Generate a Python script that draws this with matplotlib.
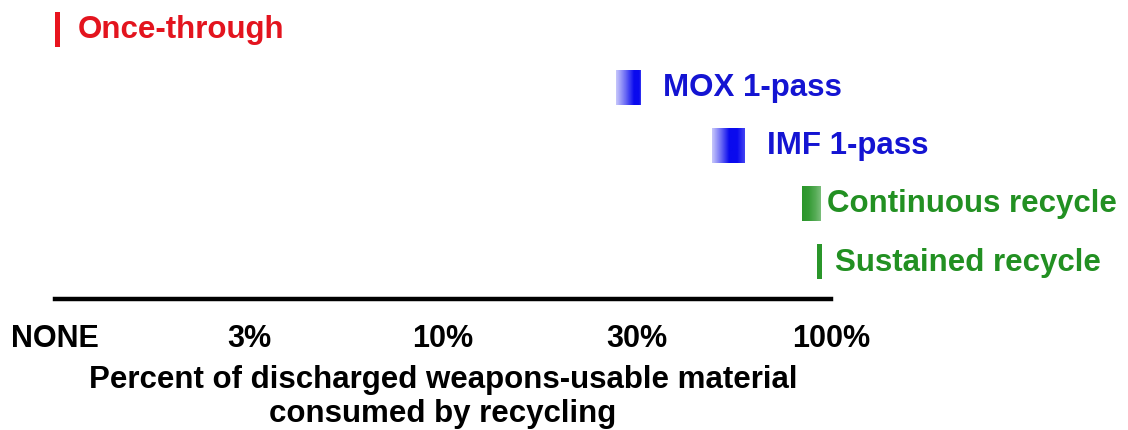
import numpy as np
import matplotlib.pyplot as plt
from matplotlib.colors import to_rgb

# ---- data -------------------------------------------------------------
options = ["Once-through", "MOX 1-pass", "IMF 1-pass", "Continuous recycle", "Sustained recycle"]
low_pct = [0.0, 27.8, 57.0, 89.5, 95.0]
high_pct = [0.08, 31.4, 69.0, 96.5, 97.0]
colors = ["#e8141e", "#0a0aee", "#0a0aee", "#2a962a", "#2a962a"]
text_colors = ["#e3141e", "#1414d2", "#1414d2", "#229022", "#229022"]

tick_values = [0, 3, 10, 30, 100]
tick_labels = ["NONE", "3%", "10%", "30%", "100%"]
xlabel = "Percent of discharged weapons-usable material\nconsumed by recycling"

# label gap after each bar (points)
label_gap = [13, 16, 16, 4, 9]

# ---- scale: ticks evenly spaced, linear between them --------------------
idx = np.arange(len(tick_values), dtype=float)


def fwd(x):
    return np.interp(x, tick_values, idx)


def inv(x):
    return np.interp(x, idx, tick_values)


plt.rcParams["font.family"] = ["Liberation Sans", "DejaVu Sans"]

fig = plt.figure(figsize=(11.28, 4.31), dpi=100)
ax = fig.add_axes([55 / 1128, (431 - 300) / 431, 776 / 1128, 300 / 431])
ax.set_xscale("function", functions=(fwd, inv))

# gradient profiles (alpha across bar width)
profiles = [
    [1.0, 1.0],
    [0.25, 0.6, 1.0, 1.0, 0.75],
    [0.25, 0.6, 1.0, 1.0, 0.75],
    [1.0, 0.95, 0.8, 0.6],
    [1.0, 1.0],
]

h = 0.62
for i, name in enumerate(options):
    prof = np.interp(np.linspace(0, 1, 64), np.linspace(0, 1, len(profiles[i])), profiles[i])
    img = np.zeros((1, 64, 4))
    img[..., :3] = to_rgb(colors[i])
    img[0, :, 3] = prof
    ax.imshow(img, extent=(low_pct[i], high_pct[i], i + h / 2, i - h / 2),
              aspect="auto", interpolation="bilinear", zorder=2)
    ax.annotate(name, (high_pct[i], i), xytext=(label_gap[i], 0),
                textcoords="offset points", color=text_colors[i],
                fontsize=22.5, fontweight="bold", va="center", ha="left",
                annotation_clip=False)

ax.set_xlim(0, 100)
ax.set_ylim((300 - 30.5) / 58, -30.5 / 58)

for s in ["top", "left", "right"]:
    ax.spines[s].set_visible(False)
ax.spines["bottom"].set_linewidth(3.2)
ax.set_yticks([])
ax.set_xticks(tick_values)
ax.set_xticklabels(tick_labels, fontsize=22, fontweight="bold")
ax.tick_params(axis="x", length=0, pad=17)
ax.set_xlabel(xlabel, fontsize=22.5, fontweight="bold", labelpad=8, linespacing=1.18)

fig.savefig("out.png", dpi=100)
